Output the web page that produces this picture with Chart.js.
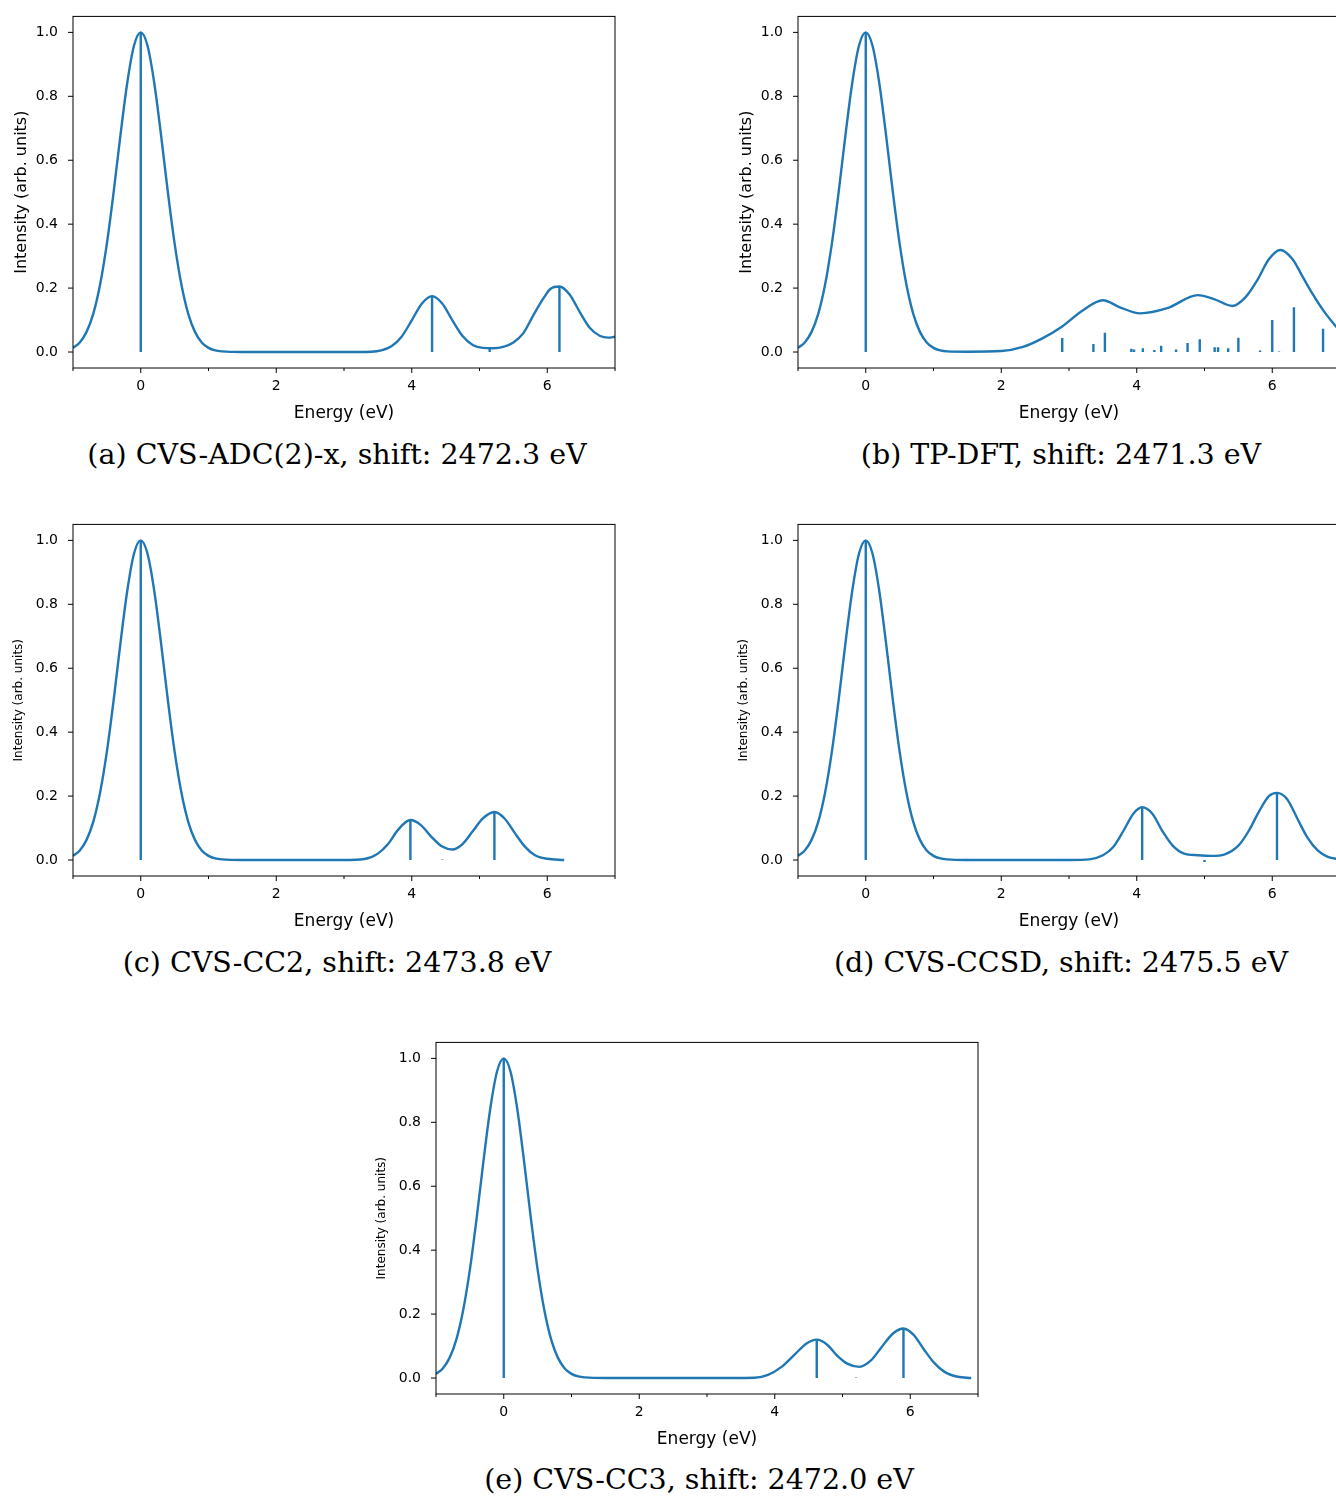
<!DOCTYPE html>
<html>
<head>
<meta charset="utf-8">
<script src="https://cdn.jsdelivr.net/npm/chart.js@4.4.0/dist/chart.umd.min.js"></script>
<style>
  html, body { margin: 0; padding: 0; background: #fff; width: 1336px; height: 1501px; overflow: hidden; }
  .panel { position: absolute; width: 617px; height: 427px; }
  .cap { position: absolute; width: 700px; text-align: center; font-family: "DejaVu Serif", serif; font-size: 28.5px; color: #000; }
</style>
</head>
<body>
<div class="panel" style="left:8px;top:1px"><canvas id="ca"></canvas></div>
<div class="panel" style="left:733px;top:1px"><canvas id="cb"></canvas></div>
<div class="panel" style="left:8px;top:509px"><canvas id="cc"></canvas></div>
<div class="panel" style="left:733px;top:509px"><canvas id="cd"></canvas></div>
<div class="panel" style="left:371px;top:1027px"><canvas id="ce"></canvas></div>
<div class="cap" style="left:-13px;top:438px">(a) CVS-ADC(2)-x, shift: 2472.3 eV</div>
<div class="cap" style="left:711px;top:438px">(b) TP-DFT, shift: 2471.3 eV</div>
<div class="cap" style="left:-13px;top:946px">(c) CVS-CC2, shift: 2473.8 eV</div>
<div class="cap" style="left:711px;top:946px">(d) CVS-CCSD, shift: 2475.5 eV</div>
<div class="cap" style="left:349px;top:1463px">(e) CVS-CC3, shift: 2472.0 eV</div>
<script>
// main peak at 0 eV, shared by all panels
const peakX = [-1, -0.9, -0.8, -0.7, -0.6, -0.5, -0.4, -0.3, -0.2, -0.1, 0, 0.1, 0.2, 0.3, 0.4, 0.5, 0.6, 0.7, 0.8, 0.9, 1.0, 1.1, 1.2];
const peakY = [0.013, 0.03, 0.063, 0.12, 0.211, 0.339, 0.5, 0.678, 0.841, 0.958, 1, 0.958, 0.841, 0.678, 0.5, 0.339, 0.211, 0.12, 0.063, 0.03, 0.013, 0.005, 0.002];

// (a) CVS-ADC(2)-x
const aTailX = [1.5, 3.0, 3.4, 3.55, 3.7, 3.85, 4.0, 4.15, 4.3, 4.45, 4.6, 4.75, 4.9, 5.05, 5.2, 5.35, 5.5, 5.65, 5.8, 5.95, 6.05, 6.18, 6.33, 6.48, 6.63, 6.78, 6.9, 7.0];
const aTailY = [0, 0, 0.001, 0.005, 0.018, 0.048, 0.099, 0.152, 0.175, 0.152, 0.099, 0.05, 0.022, 0.013, 0.012, 0.016, 0.03, 0.06, 0.117, 0.17, 0.198, 0.205, 0.18, 0.125, 0.075, 0.05, 0.045, 0.048];
const aStickX = [0, 4.3, 5.15, 6.18];
const aStickY = [1, 0.175, 0.012, 0.205];

// (b) TP-DFT
const bTailX = [1.5, 2.0, 2.32, 2.6, 2.9, 3.2, 3.5, 3.75, 4.05, 4.45, 4.9, 5.15, 5.41, 5.6, 5.78, 5.95, 6.12, 6.3, 6.45, 6.6, 6.75, 6.94, 7.0];
const bTailY = [0.001, 0.003, 0.016, 0.042, 0.08, 0.13, 0.162, 0.14, 0.121, 0.137, 0.178, 0.165, 0.144, 0.17, 0.225, 0.29, 0.319, 0.29, 0.235, 0.18, 0.131, 0.08, 0.066];
const bStickX = [0, 1.4, 2.9, 3.36, 3.53, 3.92, 3.96, 4.09, 4.26, 4.36, 4.58, 4.75, 4.93, 5.15, 5.2, 5.35, 5.5, 5.82, 6.0, 6.1, 6.32, 6.75];
const bStickY = [1, 0.002, 0.044, 0.025, 0.06, 0.01, 0.008, 0.012, 0.006, 0.02, 0.008, 0.028, 0.04, 0.015, 0.015, 0.012, 0.045, 0.005, 0.1, 0.002, 0.14, 0.073];

// (c) CVS-CC2
const cTailX = [1.5, 3.0, 3.3, 3.5, 3.65, 3.8, 3.98, 4.13, 4.28, 4.45, 4.6, 4.75, 4.9, 5.05, 5.22, 5.37, 5.52, 5.67, 5.82, 6.0, 6.25];
const cTailY = [0, 0, 0.003, 0.02, 0.05, 0.095, 0.125, 0.11, 0.075, 0.042, 0.033, 0.05, 0.09, 0.13, 0.15, 0.13, 0.085, 0.042, 0.015, 0.004, 0];
const cStickX = [0, 3.98, 4.45, 5.22];
const cStickY = [1, 0.125, 0.002, 0.15];

// (d) CVS-CCSD
const dTailX = [1.5, 3.0, 3.3, 3.5, 3.65, 3.8, 3.95, 4.08, 4.23, 4.38, 4.53, 4.7, 4.9, 5.1, 5.3, 5.5, 5.65, 5.8, 5.95, 6.07, 6.22, 6.37, 6.52, 6.67, 6.82, 7.0];
const dTailY = [0, 0, 0.002, 0.015, 0.04, 0.09, 0.145, 0.165, 0.145, 0.09, 0.045, 0.02, 0.015, 0.013, 0.018, 0.045, 0.09, 0.15, 0.2, 0.21, 0.19, 0.13, 0.07, 0.03, 0.01, 0.002];
const dStickX = [0, 4.08, 5.0, 6.07];
const dStickY = [1, 0.165, -0.006, 0.21];

// (e) CVS-CC3
const eTailX = [1.5, 3.0, 3.7, 3.9, 4.1, 4.3, 4.47, 4.62, 4.77, 4.92, 5.07, 5.25, 5.42, 5.57, 5.75, 5.9, 6.05, 6.2, 6.35, 6.5, 6.7, 6.9];
const eTailY = [0, 0, 0.001, 0.01, 0.035, 0.075, 0.108, 0.12, 0.105, 0.07, 0.045, 0.035, 0.055, 0.095, 0.14, 0.155, 0.135, 0.09, 0.048, 0.02, 0.004, 0];
const eStickX = [0, 4.62, 5.2, 5.9];
const eStickY = [1, 0.12, 0.002, 0.155];

const xTicks = [0, 2, 4, 6];
const xMinor = [-1, 1, 3, 5, 7];
const yTicks = [0, 0.2, 0.4, 0.6, 0.8, 1.0];
const blue = '#1f77b4';

// axes box and matplotlib-like ticks
const boxPlugin = {
  id: 'box',
  afterDraw(chart) {
    const { ctx, chartArea: a, scales } = chart;
    ctx.save();
    ctx.strokeStyle = '#000';
    ctx.lineWidth = 1;
    ctx.strokeRect(a.left, a.top, a.right - a.left, a.bottom - a.top);
    ctx.beginPath();
    xTicks.forEach(v => { const px = scales.x.getPixelForValue(v); ctx.moveTo(px, a.bottom); ctx.lineTo(px, a.bottom + 5); });
    xMinor.forEach(v => { const px = scales.x.getPixelForValue(v); ctx.moveTo(px, a.bottom); ctx.lineTo(px, a.bottom + 3); });
    yTicks.forEach(v => { const py = scales.y.getPixelForValue(v); ctx.moveTo(a.left, py); ctx.lineTo(a.left - 5, py); });
    ctx.stroke();
    ctx.restore();
  }
};

function makeChart(id, tailX, tailY, stickX, stickY, ySize) {
  const xs = peakX.concat(tailX);
  const ys = peakY.concat(tailY);
  const curve = xs.map((x, i) => ({ x, y: ys[i] }));
  const sticks = [];
  stickX.forEach((x, i) => { sticks.push({ x, y: 0 }, { x, y: stickY[i] }, { x, y: null }); });
  new Chart(document.getElementById(id), {
    type: 'line',
    data: {
      datasets: [
        { data: curve, borderColor: blue, borderWidth: 2.4, pointRadius: 0, cubicInterpolationMode: 'monotone', fill: false },
        { data: sticks, borderColor: blue, borderWidth: 2.4, pointRadius: 0, tension: 0, spanGaps: false, fill: false }
      ]
    },
    plugins: [boxPlugin],
    options: {
      responsive: true,
      maintainAspectRatio: false,
      animation: false,
      layout: { padding: { top: 5, right: 10 } },
      plugins: { legend: { display: false }, tooltip: { enabled: false } },
      scales: {
        x: {
          type: 'linear', min: -1, max: 7,
          afterBuildTicks: s => { s.ticks = xTicks.map(v => ({ value: v })); },
          afterFit: s => { s.height = 60; },
          grid: { display: false },
          border: { display: false },
          ticks: { color: '#000', padding: 2, font: { family: 'DejaVu Sans', size: 14 }, maxRotation: 0 },
          title: { display: true, text: 'Energy (eV)', color: '#000', padding: { top: 0 }, font: { family: 'DejaVu Sans', size: 17 } }
        },
        y: {
          min: -0.05, max: 1.05,
          afterBuildTicks: s => { s.ticks = yTicks.map(v => ({ value: v })); },
          afterFit: s => { s.width = 65; },
          grid: { display: false },
          border: { display: false },
          ticks: { color: '#000', padding: 7, font: { family: 'DejaVu Sans', size: 14 }, callback: v => v.toFixed(1) },
          title: { display: true, text: 'Intensity (arb. units)', color: '#000', padding: { bottom: 0 }, font: { family: 'DejaVu Sans', size: ySize } }
        }
      }
    }
  });
}

makeChart('ca', aTailX, aTailY, aStickX, aStickY, 16);
makeChart('cb', bTailX, bTailY, bStickX, bStickY, 16);
makeChart('cc', cTailX, cTailY, cStickX, cStickY, 12);
makeChart('cd', dTailX, dTailY, dStickX, dStickY, 12);
makeChart('ce', eTailX, eTailY, eStickX, eStickY, 12);
</script>
</body>
</html>
